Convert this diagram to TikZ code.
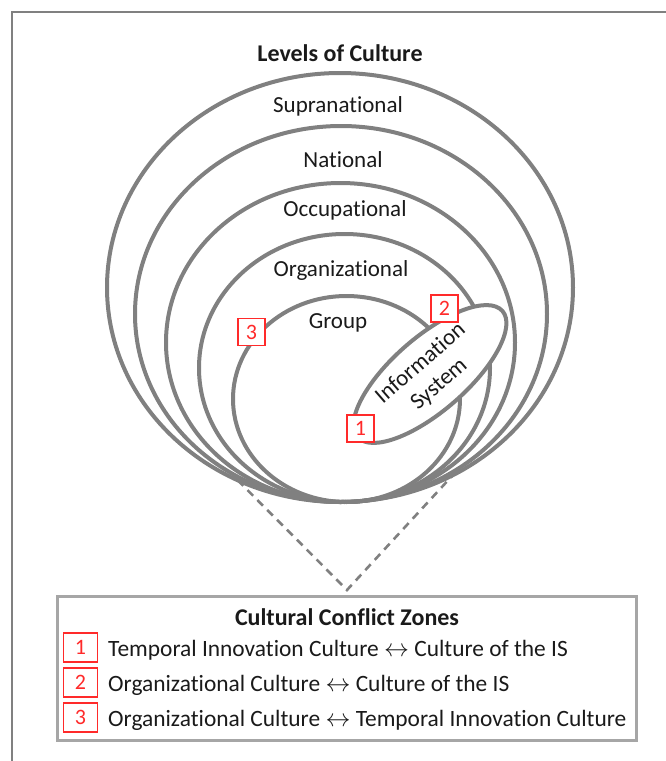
\documentclass[tikz,border=0pt]{standalone}
\usepackage{fontspec}
\setmainfont{Carlito}[Ligatures={CommonOff,ContextualOff,RequiredOff}]
\usetikzlibrary{shapes.geometric}
\definecolor{ringgray}{HTML}{808080}
\definecolor{boxgray}{HTML}{A6A6A6}
\definecolor{zonered}{HTML}{FF2A2A}
\definecolor{inkblack}{HTML}{1A1A1A}

\begin{document}
\begin{tikzpicture}[x=1pt,y=-1pt,
  ring/.style={ellipse, draw=ringgray, line width=4pt, inner sep=0pt, outer sep=0pt},
  lvl/.style={anchor=base, text=inkblack, font=\fontsize{23}{26}\selectfont, inner sep=0pt},
  heading/.style={anchor=base, text=inkblack, font=\bfseries\fontsize{24}{28}\selectfont, inner sep=0pt},
  zonetag/.style={draw=zonered, fill=white, line width=1.2pt, minimum width=27pt,
    minimum height=27pt, inner sep=0pt, text=zonered, font=\fontsize{22}{24}\selectfont},
  legendtag/.style={zonetag, minimum width=34pt, minimum height=29pt},
  legendrow/.style={anchor=base west, text=inkblack, font=\fontsize{23.4}{26}\selectfont, inner sep=0pt},
  dashline/.style={draw=ringgray, line width=2.6pt, dash pattern=on 8pt off 6pt}
]
\useasboundingbox (0,0) rectangle (666,761);

% page frame (open to the right and bottom)
\draw[ringgray, line width=2pt] (12,761) -- (12,12) -- (666,12);

% nested levels of culture, all touching at the bottom
\node[ring, minimum width=466pt, minimum height=429pt] (supra) at (340,287.5) {};
\node[ring, minimum width=412pt, minimum height=376pt] (national) at (341,314) {};
\node[ring, minimum width=349pt, minimum height=319pt] (occup) at (340.5,342.5) {};
\node[ring, minimum width=291pt, minimum height=268pt] (orga) at (344.5,368) {};
\node[ring, minimum width=227pt, minimum height=206pt] (group) at (346.5,399) {};

% information system
\node[ring, fill=white, minimum width=192pt, minimum height=74pt, rotate=41,
  align=center, text=inkblack, font=\fontsize{23}{28}\selectfont] (is) at (430,374)
  {Information\\System};

% level labels
\node[heading] (title) at (340,61) {Levels of Culture};
\node[lvl] (lsupra) at (338,112) {Supranational};
\node[lvl] (lnat) at (343,167) {National};
\node[lvl] (locc) at (345,216) {Occupational};
\node[lvl] (lorg) at (341,276) {Organizational};
\node[lvl] (lgrp) at (338,328) {Group};

% conflict zone markers
\node[zonetag] (z3) at (251.5,332) {3};
\node[zonetag] (z2) at (444.5,308.5) {2};
\node[zonetag] (z1) at (360.5,428.5) {1};

% legend box
\node[draw=boxgray, line width=3pt, minimum width=579pt, minimum height=144pt,
  inner sep=0pt] (zones) at (346.5,668) {};
\coordinate (apex) at (347,590);
\draw[dashline] (supra.242) -- (apex) -- (supra.301);

\node[heading] (ztitle) at (347,625) {Cultural Conflict Zones};
\node[legendtag] (t1) at (80.5,647.5) {1};
\node[legendtag] (t2) at (80.5,682.5) {2};
\node[legendtag] (t3) at (80.5,717.5) {3};
\node[legendrow] (r1) at (108,656) {Temporal Innovation Culture $\leftrightarrow$ Culture of the IS};
\node[legendrow] (r2) at (108,691) {Organizational Culture $\leftrightarrow$ Culture of the IS};
\node[legendrow] (r3) at (108,726) {Organizational Culture $\leftrightarrow$ Temporal Innovation Culture};
\end{tikzpicture}
\end{document}
